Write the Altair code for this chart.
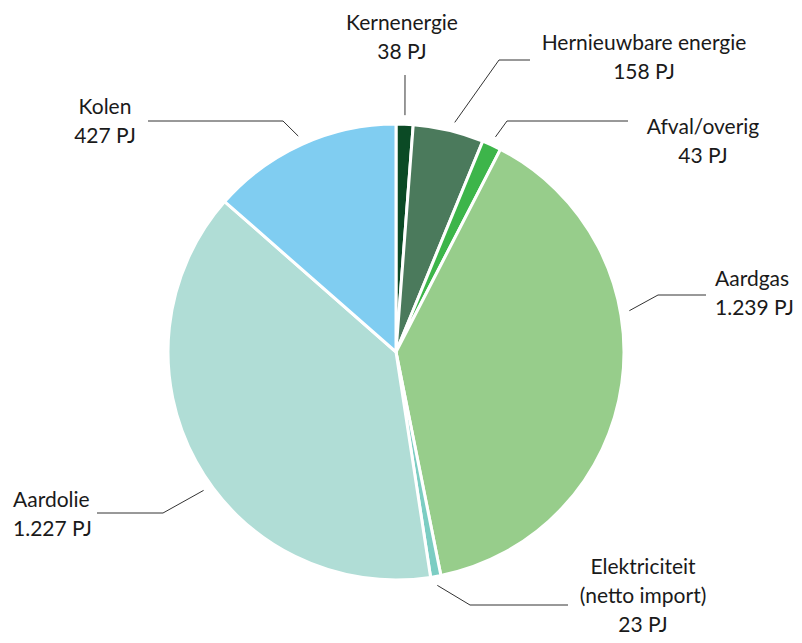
import math
import altair as alt
import pandas as pd

# ---------------- data ----------------
categories = ["Kernenergie", "Hernieuwbare energie", "Afval/overig", "Aardgas",
              "Elektriciteit (netto import)", "Aardolie", "Kolen"]
values = [38, 158, 43, 1239, 23, 1227, 427]
label_texts = ["Kernenergie\n38 PJ", "Hernieuwbare energie\n158 PJ", "Afval/overig\n43 PJ",
               "Aardgas\n1.239 PJ", "Elektriciteit\n(netto import)\n23 PJ",
               "Aardolie\n1.227 PJ", "Kolen\n427 PJ"]
colors = ["#0b4a25", "#4b7a5c", "#3db54a", "#97cd8b", "#7ccdc3", "#b0ddd6", "#80cdf1"]

# ---------------- layout (styling / annotation placement) ----------------
W, H = 786, 627
CX, CY = 388, 344          # pie centre inside the chart (px)
R = 228                    # pie radius
R_LEADER = 237             # where leader lines start
angle_nudge = [0, 1, 0, -18, 0, -7, 0]
# position of the first text line's middle, relative to the pie centre
label_pos = [(6, -328), (248, -308), (307, -224), (319, -72), (247, 216), (-383, 149), (-291, -244)]
label_align = ["center", "center", "center", "left", "center", "left", "center"]
elbows = [(9, -277), (103, -292), (111, -231), (262, -57), (74, 253), (-233, 161), (-113, -231)]
ends = [(9, -277), (134, -292), (232, -231), (310, -57), (172, 253), (-299, 161), (-248, -231)]

total = sum(values)
starts, stops, mids = [], [], []
acc = 0
for v in values:
    starts.append(acc)
    acc += v
    stops.append(acc)
    mids.append((acc - v / 2) / total * 360)

pie_df = pd.DataFrame({
    "cat": categories, "value": values, "start": starts, "stop": stops,
    "order": list(range(len(values))), "cx": 0, "cy": 0,
})

rows = []
for i, c in enumerate(categories):
    a = math.radians(mids[i] + angle_nudge[i])
    sx, sy = R_LEADER * math.sin(a), -R_LEADER * math.cos(a)
    for k, (px, py) in enumerate([(sx, sy), elbows[i], ends[i]]):
        rows.append({"cat": c, "pt": k, "x": px, "y": py})
lead_df = pd.DataFrame(rows)

lab_df = pd.DataFrame({
    "cat": categories, "label": label_texts,
    "x": [p[0] for p in label_pos], "y": [p[1] for p in label_pos],
    "align": label_align,
})

xs = alt.Scale(domain=[-CX, W - CX], nice=False, zero=False)
ys = alt.Scale(domain=[-CY, H - CY], nice=False, zero=False, reverse=True)

pie = alt.Chart(pie_df).mark_arc(outerRadius=R, stroke="white", strokeWidth=3).encode(
    theta=alt.Theta("start:Q", scale=alt.Scale(domain=[0, total]), stack=False),
    theta2="stop:Q",
    x=alt.X("cx:Q", scale=xs, axis=None),
    y=alt.Y("cy:Q", scale=ys, axis=None),
    color=alt.Color("cat:N", scale=alt.Scale(domain=categories, range=colors), legend=None),
)

leaders = alt.Chart(lead_df).mark_line(color="#333333", strokeWidth=1).encode(
    x=alt.X("x:Q", scale=xs, axis=None),
    y=alt.Y("y:Q", scale=ys, axis=None),
    detail="cat:N",
    order=alt.Order("pt:Q"),
)

def text_layer(al):
    return alt.Chart(lab_df).transform_filter(
        alt.datum.align == al
    ).mark_text(
        align=al, baseline="middle", lineBreak="\n", lineHeight=29,
        font="Lato", fontSize=21, color="#1a1a1a",
    ).encode(
        x=alt.X("x:Q", scale=xs, axis=None),
        y=alt.Y("y:Q", scale=ys, axis=None),
        text="label:N",
    )

chart = alt.layer(pie, leaders, text_layer("center"), text_layer("left")).properties(
    width=W, height=H, padding=0, autosize=alt.AutoSizeParams(type="none"),
).configure_view(stroke=None)

chart.save("out.html", embed_options={"renderer": "svg", "actions": False})
